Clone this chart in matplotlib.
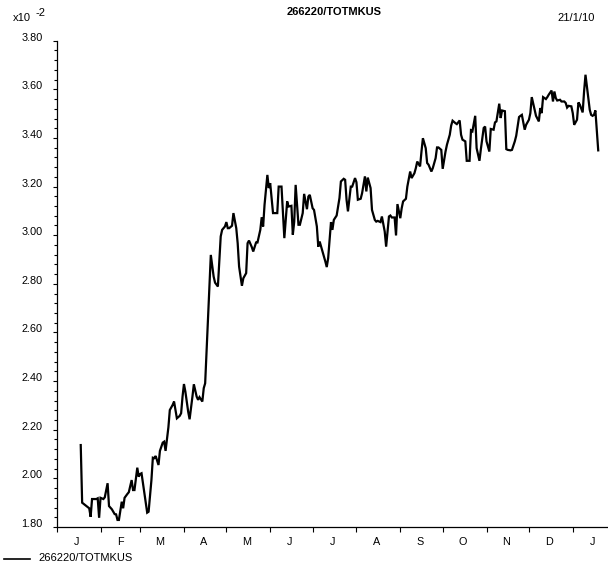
import pandas as pd
import matplotlib
matplotlib.use('Agg')
import matplotlib.pyplot as plt
import matplotlib.dates as mdates
from matplotlib.ticker import MultipleLocator, FixedLocator, NullFormatter, FuncFormatter

plt.rcParams['font.family'] = ['Liberation Sans', 'DejaVu Sans']

series_name = '266220/TOTMKUS'
run_date = '21/1/10'
start = pd.Timestamp('2009-01-01')
end = pd.Timestamp('2010-01-25')

# trading days, counted from 1 Jan 2009
days = [17, 18, 21, 23, 24, 25, 28, 29, 30, 31, 33, 34, 36, 37, 39, 41, 42, 43, 44, 46,
        47, 48, 50, 51, 53, 54, 55, 57, 58, 59, 60, 62, 64, 65, 67, 68, 69, 70, 72, 73,
        75, 76, 77, 79, 80, 82, 83, 85, 87, 88, 89, 90, 91, 93, 94, 96, 97, 99, 100, 101,
        103, 104, 105, 109, 111, 112, 114, 116, 117, 119, 120, 121, 122, 124, 125, 127, 128, 129, 131, 132,
        134, 135, 136, 138, 139, 141, 142, 144, 145, 146, 147, 149, 150, 151, 153, 154, 156, 157, 159, 160,
        161, 163, 164, 166, 167, 168, 169, 171, 172, 174, 175, 177, 178, 179, 181, 182, 184, 185, 186, 188,
        190, 191, 192, 194, 195, 196, 198, 200, 201, 203, 204, 205, 206, 208, 209, 211, 212, 213, 215, 216,
        218, 219, 220, 222, 223, 225, 226, 227, 229, 230, 232, 233, 235, 236, 237, 239, 240, 241, 243, 244,
        245, 247, 248, 250, 251, 253, 254, 255, 257, 258, 259, 261, 262, 263, 265, 266, 268, 269, 270, 272,
        273, 275, 276, 278, 279, 280, 282, 283, 285, 286, 287, 289, 290, 292, 293, 294, 296, 297, 299, 300,
        302, 303, 304, 306, 307, 309, 310, 311, 313, 314, 315, 317, 318, 319, 321, 322, 324, 325, 327, 328,
        329, 331, 332, 334, 335, 336, 338, 339, 341, 342, 343, 344, 346, 347, 348, 350, 351, 352, 353, 354,
        356, 357, 359, 360, 361, 362, 364, 365, 366, 368, 369, 370, 372, 373, 374, 375, 377, 378, 379, 380,
        381, 383]

# index level, x10^-2
values = [2.137, 1.900, 1.886, 1.877, 1.842, 1.915, 1.915, 1.918, 1.838, 1.920,
          1.915, 1.922, 1.980, 1.886, 1.873, 1.853, 1.852, 1.829, 1.829, 1.904,
          1.877, 1.920, 1.936, 1.943, 1.993, 1.952, 1.952, 2.044, 2.007, 2.018,
          2.021, 1.939, 1.859, 1.863, 1.993, 2.085, 2.083, 2.092, 2.055, 2.113,
          2.147, 2.151, 2.113, 2.210, 2.281, 2.302, 2.316, 2.247, 2.257, 2.268,
          2.336, 2.388, 2.357, 2.274, 2.243, 2.336, 2.387, 2.336, 2.323, 2.334,
          2.316, 2.371, 2.391, 2.919, 2.830, 2.805, 2.789, 2.995, 3.022, 3.036,
          3.054, 3.029, 3.029, 3.039, 3.091, 3.029, 2.967, 2.871, 2.792, 2.823,
          2.844, 2.967, 2.978, 2.951, 2.933, 2.970, 2.970, 3.022, 3.074, 3.036,
          3.125, 3.248, 3.194, 3.214, 3.091, 3.091, 3.091, 3.200, 3.200, 3.091,
          2.988, 3.139, 3.118, 3.121, 3.002, 3.056, 3.207, 3.043, 3.043, 3.091,
          3.170, 3.107, 3.159, 3.166, 3.111, 3.104, 3.036, 2.953, 2.974, 2.933,
          2.892, 2.869, 2.906, 3.054, 3.022, 3.063, 3.081, 3.153, 3.221, 3.232,
          3.228, 3.146, 3.098, 3.200, 3.200, 3.235, 3.218, 3.146, 3.150, 3.173,
          3.242, 3.180, 3.237, 3.194, 3.104, 3.063, 3.056, 3.059, 3.054, 3.077,
          3.015, 2.953, 3.077, 3.081, 3.073, 3.073, 2.999, 3.128, 3.070, 3.111,
          3.139, 3.150, 3.200, 3.262, 3.235, 3.255, 3.276, 3.303, 3.283, 3.344,
          3.399, 3.358, 3.297, 3.290, 3.262, 3.276, 3.317, 3.361, 3.361, 3.351,
          3.273, 3.344, 3.372, 3.413, 3.451, 3.471, 3.461, 3.457, 3.472, 3.413,
          3.393, 3.386, 3.306, 3.306, 3.431, 3.427, 3.491, 3.358, 3.306, 3.354,
          3.441, 3.447, 3.386, 3.344, 3.437, 3.434, 3.464, 3.468, 3.541, 3.482,
          3.513, 3.510, 3.354, 3.351, 3.349, 3.351, 3.386, 3.409, 3.486, 3.491,
          3.495, 3.434, 3.454, 3.475, 3.502, 3.568, 3.516, 3.491, 3.468, 3.523,
          3.502, 3.568, 3.560, 3.568, 3.578, 3.595, 3.550, 3.591, 3.564, 3.554,
          3.557, 3.550, 3.550, 3.544, 3.525, 3.532, 3.530, 3.502, 3.454, 3.475,
          3.546, 3.537, 3.505, 3.591, 3.660, 3.612, 3.516, 3.495, 3.491, 3.495,
          3.513, 3.349]

dates = start + pd.to_timedelta(days, unit='D')

W, H = 608, 565
fig = plt.figure(figsize=(W / 100, H / 100), dpi=100)
ax = fig.add_axes([56.7 / W, 1 - 527 / H, 550 / W, (527 - 40.7) / H])

ax.plot(dates, values, color='black', lw=1.6, solid_joinstyle='miter')

ax.set_ylim(1.80, 3.80)
ax.set_xlim(start, end)

for side in ['top', 'right']:
    ax.spines[side].set_visible(False)
for side in ['left', 'bottom']:
    ax.spines[side].set_linewidth(0.9)
    ax.spines[side].set_color('black')

# y axis: labelled every 0.2, small ticks every 0.04
ax.yaxis.set_major_locator(MultipleLocator(0.2))
ax.yaxis.set_minor_locator(MultipleLocator(0.04))
ax.yaxis.set_major_formatter(FuncFormatter(lambda v, p: '%.2f' % v))
ax.tick_params(axis='y', which='major', direction='out', length=3, width=0.8,
               labelsize=7.8, pad=7)
ax.tick_params(axis='y', which='minor', direction='out', length=2.5, width=0.8)
for lab in ax.get_yticklabels():
    lab.set_va('baseline')

# x axis: ticks at month starts, month initials mid-month
ax.xaxis.set_major_locator(mdates.MonthLocator())
ax.xaxis.set_major_formatter(NullFormatter())
ax.xaxis.set_minor_locator(mdates.MonthLocator(bymonthday=15))
ax.xaxis.set_minor_formatter(FuncFormatter(lambda x, p: mdates.num2date(x).strftime('%b')[0]))
ax.tick_params(axis='x', which='major', direction='out', length=3.5, width=0.8)
ax.tick_params(axis='x', which='minor', length=0, labelsize=7.8, pad=7)

fig.text(334 / W, 1 - 12 / H, series_name, ha='center', va='center',
         fontsize=8, fontweight='bold')
fig.text(595 / W, 1 - 17.7 / H, run_date, ha='right', va='center', fontsize=8)
fig.text(13.3 / W, 1 - 18.3 / H, 'x10', ha='left', va='center', fontsize=8)
fig.text(36 / W, 1 - 13.3 / H, '-2', ha='left', va='center', fontsize=8)

# legend entry under the axis
fig.add_artist(plt.Line2D([4 / W, 29.5 / W], [1 - 559.3 / H, 1 - 559.3 / H],
                          color='black', lw=1.2))
fig.text(38.3 / W, 1 - 557.7 / H, series_name, ha='left', va='center', fontsize=8)

fig.savefig('out.png', dpi=100)
